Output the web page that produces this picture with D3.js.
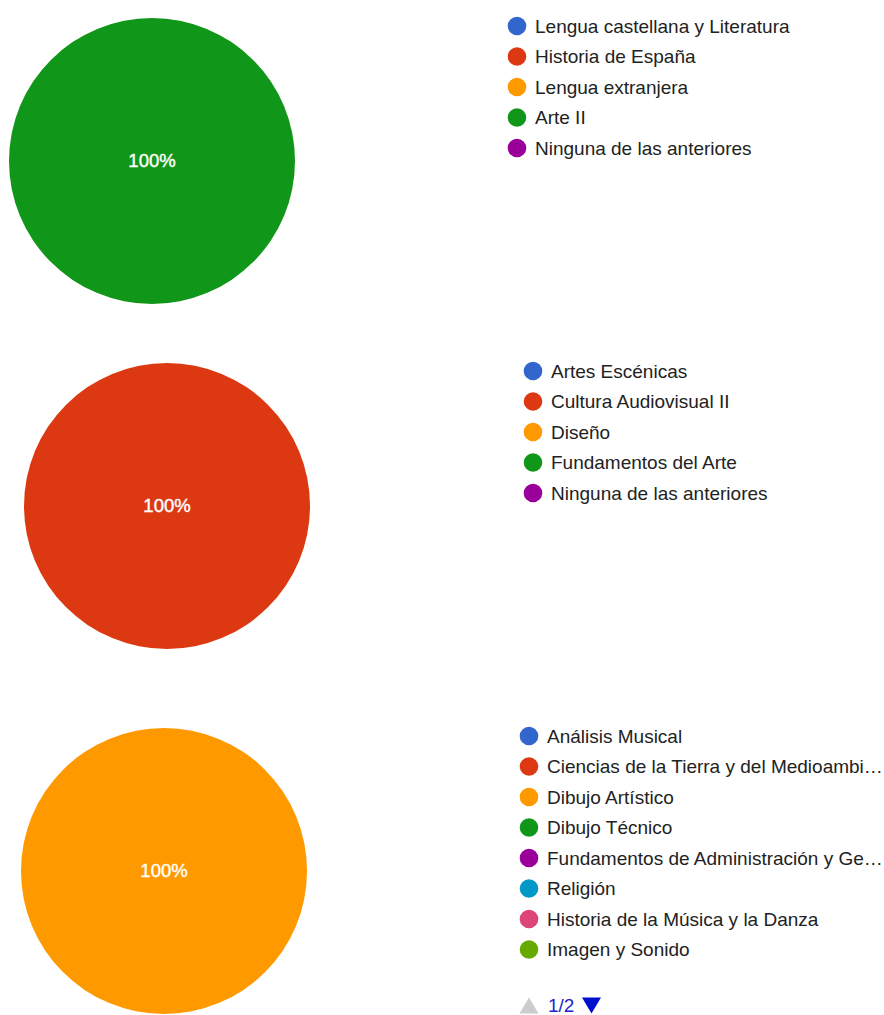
<!DOCTYPE html>
<html>
<head>
<meta charset="utf-8">
<script src="https://cdn.jsdelivr.net/npm/d3@7"></script>
<style>
  html, body { margin: 0; padding: 0; background: #ffffff; }
  svg { display: block; }
  text { font-family: "Liberation Sans", Arial, sans-serif; }
</style>
</head>
<body>
<svg id="chart" width="884" height="1015"></svg>
<script>
// ---- Data ----
const categories1 = ["Lengua castellana y Literatura", "Historia de España", "Lengua extranjera", "Arte II", "Ninguna de las anteriores"];
const values1 = [0, 0, 0, 1, 0];

const categories2 = ["Artes Escénicas", "Cultura Audiovisual II", "Diseño", "Fundamentos del Arte", "Ninguna de las anteriores"];
const values2 = [0, 1, 0, 0, 0];

const categories3 = ["Análisis Musical", "Ciencias de la Tierra y del Medioambiente", "Dibujo Artístico", "Dibujo Técnico", "Fundamentos de Administración y Gestión", "Religión", "Historia de la Música y la Danza", "Imagen y Sonido"];
const values3 = [0, 0, 1, 0, 0, 0, 0, 0];
const pageLabel3 = "1/2";

const palette = ["#3366cc", "#dc3912", "#ff9900", "#109618", "#990099", "#0099c6", "#dd4477", "#66aa00"];

// ---- Layout ----
const panels = [
  { cats: categories1, vals: values1, cx: 152, cy: 161, r: 143, lx: 517, ly: 26, pager: null },
  { cats: categories2, vals: values2, cx: 167, cy: 506, r: 143, lx: 533, ly: 371, pager: null },
  { cats: categories3, vals: values3, cx: 164, cy: 871, r: 143, lx: 529, ly: 736, pager: pageLabel3 }
];

const svg = d3.select("#chart");
const rowH = 30.5;
const maxRight = 884;

panels.forEach(p => {
  const color = d3.scaleOrdinal().domain(p.cats).range(palette);
  const pie = d3.pie().sort(null).value(d => d.v);
  const data = p.cats.map((c, i) => ({ c, v: p.vals[i] }));
  const arcs = pie(data).filter(a => a.data.v > 0);
  const arc = d3.arc().innerRadius(0).outerRadius(p.r);
  const total = d3.sum(p.vals);

  const g = svg.append("g").attr("transform", `translate(${p.cx},${p.cy})`);
  g.selectAll("path.slice").data(arcs).join("path")
    .attr("class", "slice")
    .attr("d", arc)
    .attr("fill", d => color(d.data.c))
    .attr("stroke", "#ffffff")
    .attr("stroke-width", d => (d.endAngle - d.startAngle) >= 2 * Math.PI - 1e-6 ? 0 : 1);

  const fmt = d3.format(".0%");
  const labelArc = d3.arc().innerRadius(p.r * 0.5).outerRadius(p.r * 0.5);
  g.selectAll("text.pct").data(arcs).join("text")
    .attr("class", "pct")
    .attr("transform", d => {
      const full = (d.endAngle - d.startAngle) >= 2 * Math.PI - 1e-6;
      return full ? "translate(0,0)" : `translate(${labelArc.centroid(d)})`;
    })
    .attr("text-anchor", "middle")
    .attr("dy", "0.35em")
    .attr("fill", "#ffffff")
    .attr("stroke", "#ffffff")
    .attr("stroke-width", 0.4)
    .attr("font-size", 18.5)
    .text(d => fmt(d.data.v / total));

  // Legend
  const lg = svg.append("g").attr("transform", `translate(${p.lx},${p.ly})`);
  const rows = lg.selectAll("g.row").data(p.cats).join("g")
    .attr("class", "row")
    .attr("transform", (d, i) => `translate(0,${i * rowH})`);
  rows.append("circle").attr("r", 9.3).attr("fill", d => color(d));
  rows.append("text")
    .attr("x", 18)
    .attr("dy", "0.35em")
    .attr("font-size", 19)
    .attr("fill", "#222222")
    .text(d => d)
    .each(function(d) {
      const el = d3.select(this);
      const maxW = maxRight - (p.lx + 18) - 1;
      let s = d;
      if (this.getComputedTextLength() > maxW) {
        while (s.length > 1) {
          s = s.slice(0, -1);
          el.text(s.trimEnd() + "…");
          if (this.getComputedTextLength() <= maxW) break;
        }
      }
    });

  if (p.pager) {
    const py = p.ly + (p.cats.length - 1) * rowH + 56;
    const pg = lg.append("g").attr("transform", `translate(0,${py - p.ly})`);
    pg.append("path").attr("d", "M-9.5,8 L0,-8 L9.5,8 Z").attr("fill", "#cccccc");
    pg.append("text").attr("x", 19).attr("dy", "0.35em").attr("font-size", 19).attr("fill", "#2222cc").text(p.pager);
    pg.append("path").attr("d", "M53,-8 L72,-8 L62.5,8 Z").attr("fill", "#0011cc");
  }
});
</script>
</body>
</html>
